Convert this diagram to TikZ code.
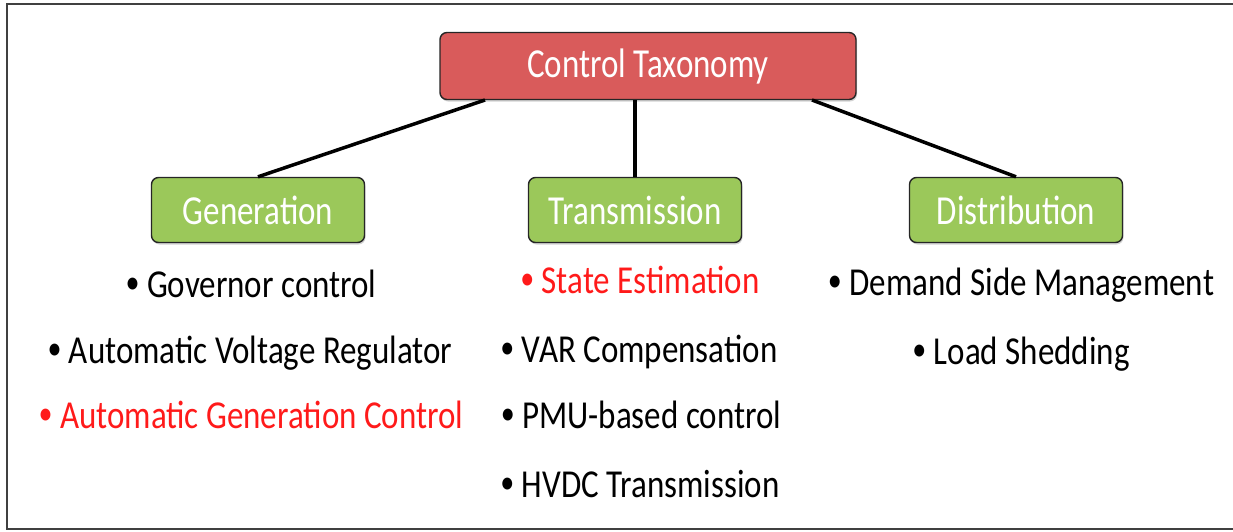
\documentclass[tikz,border=0pt]{standalone}
\usepackage{fontspec}
\setmainfont{Carlito}
\usetikzlibrary{shadows}
\definecolor{rootred}{HTML}{D95B5B}
\definecolor{leafgreen}{HTML}{9BC85A}
\definecolor{itemred}{HTML}{FF1A1A}
% narrow-looking lettering: stretch text vertically
\newcommand{\tallbox}[1]{\scalebox{1}[1.25]{#1}}
\newcommand{\tallitem}[1]{\scalebox{1}[1.2]{#1}}
\newcommand{\blt}{\raisebox{0.08em}{\scalebox{0.85}{•}}}
\begin{document}
\begin{tikzpicture}[x=1pt,y=-1pt,
  catbox/.style={draw=black!85, line width=1.4pt, rounded corners=7pt,
    minimum width=213pt, minimum height=65pt, inner sep=0pt,
    text=white, font=\fontsize{33}{38}\selectfont,
    drop shadow={shadow xshift=1pt, shadow yshift=-2pt, opacity=0.35}},
  rootbox/.style={catbox, fill=rootred, minimum width=416pt, minimum height=67pt},
  leaf/.style={catbox, fill=leafgreen},
  item/.style={anchor=base, inner sep=0pt, font=\fontsize{33}{38}\selectfont},
  hot/.style={item, text=itemred},
  link/.style={line width=3.5pt, black}]
\useasboundingbox (0,0) rectangle (1233,531);
% outer frame (open on the right)
\draw[line width=2.5pt, black!75] (1240,4) -- (7,4) -- (7,529) -- (1240,529);

\node[rootbox] (root) at (648,66) {\tallbox{Control Taxonomy}};
\node[leaf] (gen) at (258,210) {\tallbox{Generation}};
\node[leaf] (tra) at (635,210) {\tallbox{Transmission}};
\node[leaf] (dis) at (1016,210) {\tallbox{Distribution}};

\coordinate (rl) at (485,100);
\coordinate (rr) at (812,100);
\draw[link] (rl) -- (gen.north);
\draw[link] (root.south -| tra.north) -- (tra.north);
\draw[link] (rr) -- (dis.north);

% generation items
\node[item] (g1) at (251,297) {\tallitem{\blt{} Governor control}};
\node[item] (g2) at (250,363) {\tallitem{\blt{} Automatic Voltage Regulator}};
\node[hot]  (g3) at (251,428) {\tallitem{\blt{} Automatic Generation Control}};
% transmission items
\node[hot]  (t1) at (640,293) {\tallitem{\blt{} State Estimation}};
\node[item] (t2) at (639,362) {\tallitem{\blt{} VAR Compensation}};
\node[item] (t3) at (641,428) {\tallitem{\blt{} PMU-based control}};
\node[item] (t4) at (640,497) {\tallitem{\blt{} HVDC Transmission}};
% distribution items
\node[item] (d1) at (1021,295) {\tallitem{\blt{} Demand Side Management}};
\node[item] (d2) at (1021,364) {\tallitem{\blt{} Load Shedding}};
\end{tikzpicture}
\end{document}
